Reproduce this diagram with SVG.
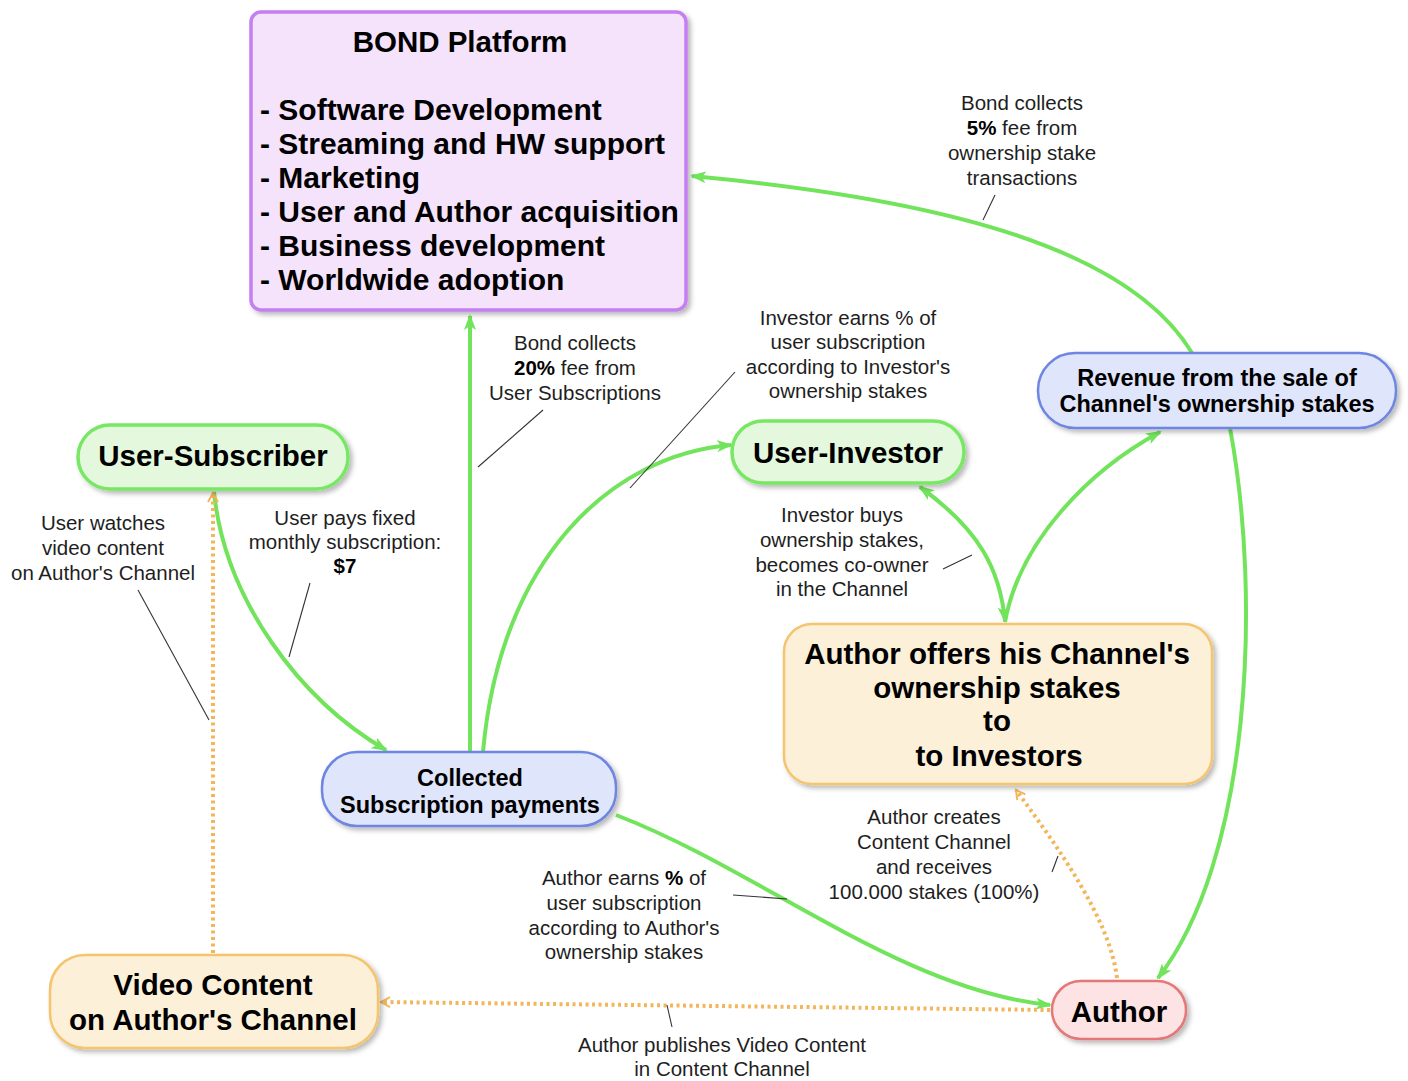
<svg xmlns="http://www.w3.org/2000/svg" width="1408" height="1081" viewBox="0 0 1408 1081">
<style>
.node text{font-family:"Liberation Sans",Arial,Helvetica,sans-serif;font-weight:bold;fill:#000;text-anchor:middle}
.lbl{font-family:"Liberation Sans",Arial,Helvetica,sans-serif;font-size:20.5px;fill:#1e1e1e;text-anchor:middle}
.lbl .b{font-weight:bold;fill:#000}
.g{fill:none;stroke:#72e45c;stroke-width:4}
.o{fill:none;stroke:#f3b65a;stroke-width:4;stroke-dasharray:3 3.5}
.ld{fill:none;stroke:#333;stroke-width:1.1}
.purple{fill:#f5e3fc;stroke:#c47ff1;stroke-width:3.5}
.green{fill:#e4f8dd;stroke:#78e763;stroke-width:3.5}
.blue{fill:#dfe5fb;stroke:#6e85e2;stroke-width:2.5}
.orange{fill:#fdf0d9;stroke:#f4c46e;stroke-width:2.5}
.red{fill:#fde3e3;stroke:#e47777;stroke-width:2.5}
</style>
<defs>
<filter id="sh" x="-10%" y="-10%" width="125%" height="130%">
<feDropShadow dx="3" dy="3" stdDeviation="2.5" flood-color="#000" flood-opacity="0.28"/>
</filter>
<marker id="ga" viewBox="0 0 16 12" refX="14" refY="6" markerWidth="16" markerHeight="12" markerUnits="userSpaceOnUse" orient="auto-start-reverse">
<path d="M0,0 L16,6 L0,12 L4,6 z" fill="#72e45c"/>
</marker>
<marker id="oa" viewBox="0 0 12 12" refX="10" refY="6" markerWidth="12" markerHeight="12" markerUnits="userSpaceOnUse" orient="auto">
<path d="M1,1 L10,6 L1,11" fill="none" stroke="#f3b65a" stroke-width="2"/>
</marker>
</defs>

<g id="connectors">
<path class="g" d="M1192,353 C1130,250 950,200 692,176" marker-end="url(#ga)"/>
<path class="g" d="M470,752 L470,316" marker-end="url(#ga)"/>
<path class="g" d="M483,752 C500,560 610,455 731,445" marker-end="url(#ga)"/>
<path class="g" d="M214,492 C225,600 300,700 386,750" marker-end="url(#ga)"/>
<path class="g" d="M616,815 C760,870 900,990 1050,1005" marker-end="url(#ga)"/>
<path class="g" d="M1230,428 C1262,600 1250,860 1158,978" marker-end="url(#ga)"/>
<path class="g" d="M1005,622 C1020,540 1090,470 1160,432" marker-end="url(#ga)"/>
<path class="g" d="M920,487 C980,530 1000,570 1005,621" marker-start="url(#ga)" marker-end="url(#ga)"/>
<path class="o" d="M213,953 L213,493" marker-end="url(#oa)"/>
<path class="o" d="M1050,1010 L381,1002" marker-end="url(#oa)"/>
<path class="o" d="M1117,978 C1110,920 1060,850 1016,790" marker-end="url(#oa)"/>
<path class="ld" d="M138,590 L209,720"/>
<path class="ld" d="M310,583 L289,657"/>
<path class="ld" d="M543,410 L478,467"/>
<path class="ld" d="M735,372 L630,488"/>
<path class="ld" d="M995,195 L983,220"/>
<path class="ld" d="M943,569 L972,555"/>
<path class="ld" d="M1052,872 L1058,856"/>
<path class="ld" d="M733,895 L787,899"/>
<path class="ld" d="M667,1005 L672,1027"/>
</g>

<g id="bond" class="node">
<rect class="purple" x="251" y="12" width="435" height="298" rx="10" filter="url(#sh)"/>
<text x="460" y="52" font-size="29.5">BOND Platform</text>
<text x="260" y="120" font-size="30" style="text-anchor:start">- Software Development</text>
<text x="260" y="154" font-size="30" style="text-anchor:start">- Streaming and HW support</text>
<text x="260" y="188" font-size="30" style="text-anchor:start">- Marketing</text>
<text x="260" y="222" font-size="30" style="text-anchor:start">- User and Author acquisition</text>
<text x="260" y="256" font-size="30" style="text-anchor:start">- Business development</text>
<text x="260" y="290" font-size="30" style="text-anchor:start">- Worldwide adoption</text>
</g>

<g id="revenue" class="node">
<rect class="blue" x="1038" y="353" width="358" height="75" rx="37" filter="url(#sh)"/>
<text x="1217" y="386" font-size="23.5">Revenue from the sale of</text>
<text x="1217" y="412" font-size="23.5">Channel's ownership stakes</text>
</g>

<g id="user-subscriber" class="node">
<rect class="green" x="78" y="425" width="270" height="64" rx="32" filter="url(#sh)"/>
<text x="213" y="466" font-size="29.5">User-Subscriber</text>
</g>

<g id="user-investor" class="node">
<rect class="green" x="732" y="421" width="232" height="62" rx="31" filter="url(#sh)"/>
<text x="848" y="463" font-size="29.5">User-Investor</text>
</g>

<g id="collected" class="node">
<rect class="blue" x="322" y="752" width="294" height="74" rx="35" filter="url(#sh)"/>
<text x="470" y="786" font-size="23.5">Collected</text>
<text x="470" y="813" font-size="23.5">Subscription payments</text>
</g>

<g id="author-offers" class="node">
<rect class="orange" x="784" y="624" width="428" height="160" rx="28" filter="url(#sh)"/>
<text x="997" y="664" font-size="29.5">Author offers his Channel's</text>
<text x="997" y="698" font-size="29.5">ownership stakes</text>
<text x="997" y="731" font-size="29.5">to</text>
<text x="999" y="766" font-size="29.5">to Investors</text>
</g>

<g id="video-content" class="node">
<rect class="orange" x="50" y="955" width="328" height="93" rx="35" filter="url(#sh)"/>
<text x="213" y="995" font-size="29.5">Video Content</text>
<text x="213" y="1030" font-size="29.5">on Author's Channel</text>
</g>

<g id="author" class="node">
<rect class="red" x="1052" y="981" width="134" height="58" rx="29" filter="url(#sh)"/>
<text x="1119" y="1022" font-size="29.5">Author</text>
</g>

<g id="labels">
<text class="lbl"><tspan x="1022" y="110">Bond collects</tspan><tspan x="1022" y="135"><tspan class="b">5%</tspan> fee from</tspan><tspan x="1022" y="160">ownership stake</tspan><tspan x="1022" y="185">transactions</tspan></text>
<text class="lbl"><tspan x="575" y="350">Bond collects</tspan><tspan x="575" y="375"><tspan class="b">20%</tspan> fee from</tspan><tspan x="575" y="400">User Subscriptions</tspan></text>
<text class="lbl"><tspan x="848" y="325">Investor earns % of</tspan><tspan x="848" y="349">user subscription</tspan><tspan x="848" y="374">according to Investor's</tspan><tspan x="848" y="398">ownership stakes</tspan></text>
<text class="lbl"><tspan x="103" y="530">User watches</tspan><tspan x="103" y="555">video content</tspan><tspan x="103" y="580">on Author's Channel</tspan></text>
<text class="lbl"><tspan x="345" y="525">User pays fixed</tspan><tspan x="345" y="549">monthly subscription:</tspan><tspan x="345" y="573" class="b">$7</tspan></text>
<text class="lbl"><tspan x="842" y="522">Investor buys</tspan><tspan x="842" y="547">ownership stakes,</tspan><tspan x="842" y="572">becomes co-owner</tspan><tspan x="842" y="596">in the Channel</tspan></text>
<text class="lbl"><tspan x="934" y="824">Author creates</tspan><tspan x="934" y="849">Content Channel</tspan><tspan x="934" y="874">and receives</tspan><tspan x="934" y="899">100.000 stakes (100%)</tspan></text>
<text class="lbl"><tspan x="624" y="885">Author earns <tspan class="b">%</tspan> of</tspan><tspan x="624" y="910">user subscription</tspan><tspan x="624" y="935">according to Author's</tspan><tspan x="624" y="959">ownership stakes</tspan></text>
<text class="lbl"><tspan x="722" y="1052">Author publishes Video Content</tspan><tspan x="722" y="1076">in Content Channel</tspan></text>
</g>
</svg>
